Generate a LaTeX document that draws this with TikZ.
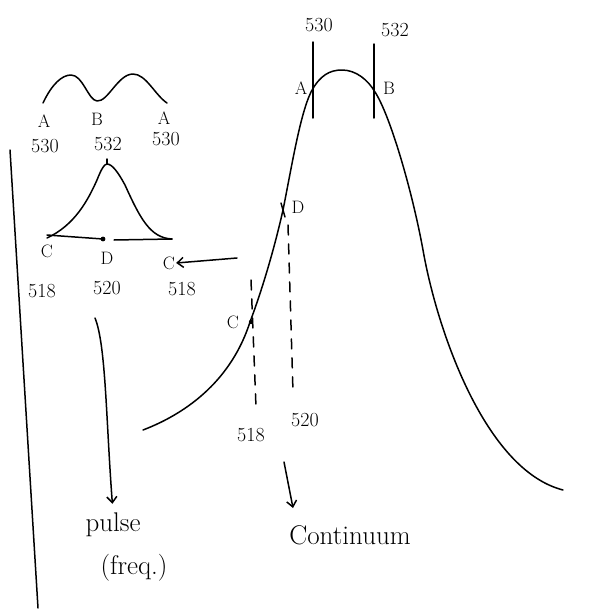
\documentclass[tikz,border=0pt]{standalone}
\usepackage{fontspec}
\usetikzlibrary{arrows.meta}
\begin{document}
\begin{tikzpicture}[x=1pt,y=-1pt,
  ink/.style={line width=1.5pt,line cap=round,line join=round},
  lab/.style={font=\fontsize{18}{18}\selectfont,inner sep=1pt},
  num/.style={font=\fontsize{20}{20}\selectfont,inner sep=1pt},
  big/.style={font=\fontsize{27}{27}\selectfont,inner sep=1pt},
  dash line/.style={ink,dash pattern=on 10pt off 9pt},
  tip/.style={-{Straight Barb[length=6pt,width=10pt]}}]
\useasboundingbox (0,0) rectangle (590,613);
% left vertical line
\draw[ink] (10,150) -- (38,608);
% double-peak curve
\draw[ink] (43,103) .. controls (52,84) and (62,75) .. (71,75)
  .. controls (83,75) and (88,100) .. (97,101)
  .. controls (108,102) and (118,74) .. (133,74)
  .. controls (146,74) and (155,95) .. (167,103);
\node[lab] (a1) at (44,121) {A};
\node[lab] (b1) at (97,119) {B};
\node[lab] (a2) at (164,118) {A};
\node[num] (n530a) at (45,146) {530};
\node[num] (n532a) at (108,144) {532};
\node[num] (n530b) at (166,139) {530};
% gaussian pulse
\draw[ink] (47,238) .. controls (75,225) and (88,200) .. (97,180)
  .. controls (101,170) and (104,164) .. (107,164)
  .. controls (112,164) and (118,172) .. (125,185)
  .. controls (140,218) and (150,238) .. (172,239);
\draw[ink] (107,164) -- (107,159);
\draw[ink] (47,235) -- (103,239);
\draw[ink] (114,240) -- (172,239);
\fill (103,239) circle (2.4pt);
\node[lab] (c1) at (47,251) {C};
\node[lab] (d1) at (107,258) {D};
\node[lab] (c2) at (169,263) {C};
\node[num] (n518a) at (42,291) {518};
\node[num] (n520a) at (107,288) {520};
\node[num] (n518b) at (182,289) {518};
\coordinate (arrstart) at (237,258);
\draw[ink,tip] (arrstart) -- (c2.east);
% arrow to pulse
\coordinate (p0) at (95,318);
\node[big] (pulse) at (113,525) {pulse};
\node[big] (freq) at (134,568) {(freq.)};
\draw[ink,tip,shorten >=8pt] (p0) .. controls (106,345) and (106,420) .. (pulse.north);
% big curve
\draw[ink] (143,430) .. controls (190,412) and (232,378) .. (250,322)
  .. controls (262,290) and (274,250) .. (283,210)
  .. controls (292,165) and (300,115) .. (311,92)
  .. controls (320,75) and (330,70) .. (342,70)
  .. controls (356,70) and (368,80) .. (375,92)
  .. controls (390,115) and (412,190) .. (423,250)
  .. controls (437,330) and (485,470) .. (563,490);
% A and B ticks
\draw[ink] (313,42) -- (313,118);
\draw[ink] (374,44) -- (374,118);
\node[num] (n530c) at (319,25) {530};
\node[num] (n532c) at (395,30) {532};
\node[lab] (a3) at (301,88) {A};
\node[lab] (b3) at (389,88) {B};
% D and C marks
\draw[ink] (281,203) -- (285,217);
\node[lab] (d2) at (298,207) {D};
\fill (251,322) circle (2.2pt);
\node[lab] (c3) at (233,322) {C};
\node[num] (n518c) at (251,435) {518};
\node[num] (n520c) at (305,420) {520};
\coordinate (dend) at (293,392);
\coordinate (cend) at (256,407);
\draw[dash line] (288,225) -- (dend);
\draw[dash line] (251,280) -- (cend);
% arrow to continuum
\coordinate (q0) at (284,462);
\node[big] (cont) at (350,535) {Continuum};
\draw[ink,tip] (q0) -- (293,508);
\end{tikzpicture}
\end{document}
